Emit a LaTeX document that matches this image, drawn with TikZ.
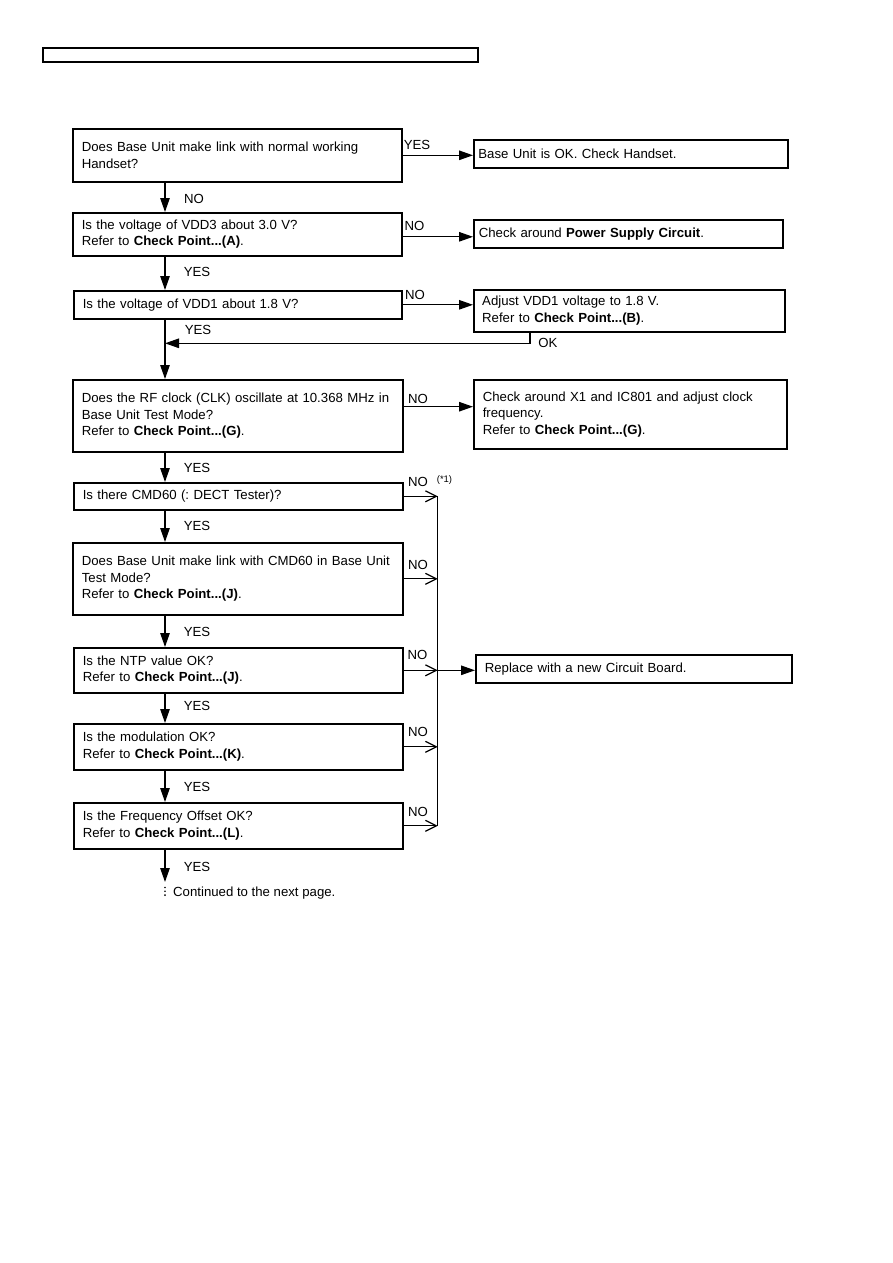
\documentclass[tikz,border=0pt]{standalone}
\usepackage{fontspec}
\setmainfont{Liberation Sans}
\usetikzlibrary{arrows.meta}
\frenchspacing
\begin{document}
\begin{tikzpicture}[x=1pt,y=-1pt,
  box/.style={draw, line width=1.6pt, rectangle, anchor=north west, align=left,
    inner xsep=9pt, inner ysep=0pt, font=\fontsize{13.2}{16.5}\selectfont},
  lbl/.style={inner sep=0pt, font=\fontsize{13.2}{15}\selectfont},
  arr/.style={line width=1.2pt, -{Triangle[length=14pt,width=9.5pt]}},
  oarr/.style={line width=1.2pt, -{Straight Barb[length=11pt,width=11pt,line width=1.2pt]}},
  ln/.style={line width=1.2pt}]
\useasboundingbox (0,0) rectangle (893,1263);
\fill[white] (0,0) rectangle (893,1263);
\node[draw, line width=1.6pt, anchor=north west, minimum width=435pt, minimum height=14pt, inner sep=0pt] (hdr) at (42,47) {};
\coordinate (sp) at (165,0);
\coordinate (spine) at (437.7,0);
% left column
\node[box, minimum width=329pt, minimum height=53pt, text width=311pt] (b1) at (72,128)
  {Does Base Unit make link with normal working\\Handset?};
\node[box, minimum width=329pt, minimum height=43pt, text width=311pt] (b2) at (72,212)
  {Is the voltage of VDD3 about 3.0 V?\\Refer to \textbf{Check Point...(A)}.};
\node[box, minimum width=328pt, minimum height=28pt, text width=310pt] (b3) at (73,290)
  {Is the voltage of VDD1 about 1.8 V?};
\node[box, minimum width=330pt, minimum height=72pt, text width=312pt] (b4) at (72,379)
  {Does the RF clock (CLK) oscillate at 10.368 MHz in\\Base Unit Test Mode?\\Refer to \textbf{Check Point...(G)}.};
\node[box, minimum width=329pt, minimum height=27pt, text width=311pt] (b5) at (73,482)
  {Is there CMD60 (: DECT Tester)?};
\node[box, minimum width=330pt, minimum height=72pt, text width=312pt] (b6) at (72,542)
  {Does Base Unit make link with CMD60 in Base Unit\\Test Mode?\\Refer to \textbf{Check Point...(J)}.};
\node[box, minimum width=329pt, minimum height=45pt, text width=311pt] (b7) at (73,647)
  {Is the NTP value OK?\\Refer to \textbf{Check Point...(J)}.};
\node[box, minimum width=329pt, minimum height=46pt, text width=311pt] (b8) at (73,723)
  {Is the modulation OK?\\Refer to \textbf{Check Point...(K)}.};
\node[box, minimum width=329pt, minimum height=46pt, text width=311pt] (b9) at (73,802)
  {Is the Frequency Offset OK?\\Refer to \textbf{Check Point...(L)}.};
% right column
\node[box, inner xsep=4.6pt, minimum width=314pt, minimum height=28pt, text width=304.8pt] (y1) at (473,139)
  {Base Unit is OK. Check Handset.};
\node[box, inner xsep=5pt, minimum width=309pt, minimum height=28pt, text width=299pt] (n2) at (473,219)
  {Check around \textbf{Power Supply Circuit}.};
\node[box, inner xsep=8.4pt, minimum width=311pt, minimum height=42pt, text width=294.2pt] (n3) at (473,289)
  {Adjust VDD1 voltage to 1.8 V.\\Refer to \textbf{Check Point...(B)}.};
\node[box, minimum width=313pt, minimum height=69pt, text width=295pt] (n4) at (473,379)
  {Check around X1 and IC801 and adjust clock\\frequency.\\Refer to \textbf{Check Point...(G)}.};
\node[box, minimum width=316pt, minimum height=28pt, text width=298pt] (r) at (475,654)
  {Replace with a new Circuit Board.};
% vertical arrows
\draw[arr] (b1.south -| sp) -- (b2.north -| sp);
\draw[arr] (b2.south -| sp) -- (b3.north -| sp);
\draw[arr] (b3.south -| sp) -- (b4.north -| sp);
\draw[arr] (b4.south -| sp) -- (b5.north -| sp);
\draw[arr] (b5.south -| sp) -- (b6.north -| sp);
\draw[arr] (b6.south -| sp) -- (b7.north -| sp);
\draw[arr] (b7.south -| sp) -- (b8.north -| sp);
\draw[arr] (b8.south -| sp) -- (b9.north -| sp);
\coordinate (cont) at (165,882);
\draw[arr] (b9.south -| sp) -- (cont);
% horizontal arrows
\draw[arr] (b1.east) -- (b1.east -| y1.west);
\draw[arr] (b2.east) ++(0,2.5) coordinate (a2) -- (a2 -| n2.west);
\draw[arr] (b3.east) -- (b3.east -| n3.west);
\draw[arr] (b4.north east) ++(0,27.7) coordinate (a4) -- (a4 -| n4.west);
\coordinate (okc) at (530,343.3);
\draw[arr] (n3.south -| okc) |- (okc -| sp);
% spine
\draw[oarr] (b5.east) -- (b5.east -| spine);
\draw[oarr] (b6.east) -- (b6.east -| spine);
\draw[oarr] (b7.east) -- (b7.east -| spine);
\draw[oarr] (b8.east) -- (b8.east -| spine);
\draw[oarr] (b9.east) -- (b9.east -| spine);
\draw[ln] (b5.east -| spine) -- (b9.east -| spine);
\draw[arr] (b7.east -| spine) -- (b7.east -| r.west);
% labels
\node[lbl] (l1) at (417,145) {YES};
\node[lbl] (l2) at (194,198.7) {NO};
\node[lbl] (l3) at (414.5,226.3) {NO};
\node[lbl] (l4) at (197,271.5) {YES};
\node[lbl] (l5) at (415,295) {NO};
\node[lbl] (l6) at (198,330) {YES};
\node[lbl] (l7) at (548,342.5) {OK};
\node[lbl] (l8) at (418,399) {NO};
\node[lbl] (l9) at (197,467.5) {YES};
\node[lbl] (l10) at (418,481.7) {NO};
\node[inner sep=0pt, font=\fontsize{9.5}{11}\selectfont] (l10b) at (444.5,480.5) {(*1)};
\node[lbl] (l11) at (197,526) {YES};
\node[lbl] (l12) at (418,565) {NO};
\node[lbl] (l13) at (197,632) {YES};
\node[lbl] (l14) at (417.5,654.5) {NO};
\node[lbl] (l15) at (197,706) {YES};
\node[lbl] (l16) at (418,731.5) {NO};
\node[lbl] (l17) at (197,786.5) {YES};
\node[lbl] (l18) at (418,812) {NO};
\node[lbl] (l19) at (197,866.5) {YES};
\node[lbl, anchor=base west] (ct) at (173,896.5) {Continued to the next page.};
\foreach \yy in {887.5,891.3,895.1} \fill (165,\yy) circle (0.9pt);
\end{tikzpicture}
\end{document}
